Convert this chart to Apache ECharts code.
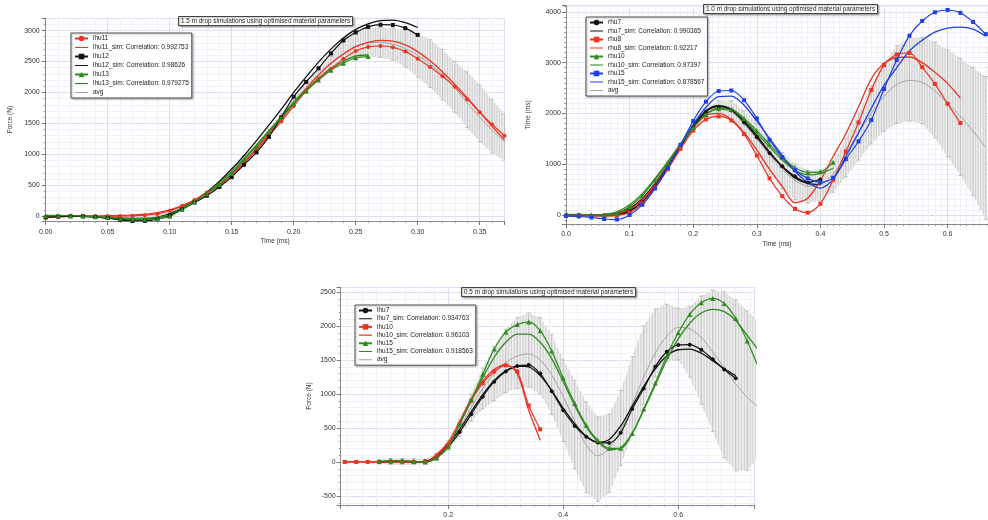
<!DOCTYPE html>
<html>
<head>
<meta charset="utf-8">
<title>Drop simulations using optimised material parameters</title>
<script src="https://cdn.jsdelivr.net/npm/echarts@6.0.0/dist/echarts.min.js"></script>
<style>
  html, body { margin: 0; padding: 0; background: #fff; }
  #chart { width: 988px; height: 520px; }
</style>
</head>
<body>
<div id="chart"></div>
<script>
// ---- 1.5 m drop (top left) ----
const t15 = [0.00,0.01,0.02,0.03,0.04,0.05,0.06,0.07,0.08,0.09,0.10,0.11,0.12,0.13,0.14,0.15,0.16,0.17,0.18,0.19,
             0.20,0.21,0.22,0.23,0.24,0.25,0.26,0.27,0.28,0.29,0.30,0.31,0.32,0.33,0.34,0.35,0.36,0.37];
const lhu11    = [-30,-10,0,0,0,0,0,5,15,35,85,165,260,380,490,660,850,1070,1300,1530,1780,2020,2220,2380,2540,2670,2735,2750,2730,2660,2545,2410,2260,2090,1890,1680,1480,1300];
const lhu11Sim = [-20,-5,0,0,0,5,10,15,30,55,100,170,260,370,500,670,870,1090,1330,1570,1820,2060,2280,2470,2620,2740,2810,2840,2830,2770,2660,2510,2330,2130,1910,1680,1450,1230];
const lhu12    = [-20,-10,-5,-5,-15,-30,-60,-80,-78,-50,10,110,220,330,470,630,830,1030,1280,1600,1930,2170,2390,2630,2840,2970,3060,3095,3090,3040,2930];
const lhu12Sim = [-10,-5,0,-5,-15,-35,-55,-65,-55,-20,40,130,250,390,560,760,980,1220,1470,1730,2000,2250,2490,2700,2880,3020,3110,3160,3170,3130,3050];
const lhu13    = [0,5,5,0,-10,-25,-40,-50,-55,-45,-5,110,230,360,510,690,910,1130,1360,1590,1820,2020,2200,2360,2470,2560,2580];
const lhu13Sim = [10,10,5,0,-5,-15,-25,-35,-35,-20,30,130,250,380,540,720,930,1150,1380,1610,1840,2040,2230,2390,2500,2590,2605];
const avg15    = [-10,-5,0,-5,-10,-20,-30,-40,-35,-15,30,130,240,360,510,680,890,1110,1350,1600,1850,2080,2290,2460,2620,2740,2800,2810,2780,2710,2600,2460,2280,2070,1830,1600,1390,1200];
const avg15Lo  = [-35,-20,-10,-15,-25,-40,-65,-80,-80,-60,-10,100,215,330,470,630,830,1050,1290,1540,1790,2010,2200,2360,2450,2560,2580,2570,2520,2410,2250,2080,1880,1680,1430,1200,1020,900];
const avg15Hi  = [15,10,10,5,5,0,5,5,15,35,85,165,265,390,560,760,980,1170,1410,1660,1910,2150,2380,2580,2870,3000,3040,3050,3040,3010,2950,2850,2690,2500,2330,2120,1880,1650];

// ---- 1.0 m drop (top right) ----
const t10 = [0.00,0.02,0.04,0.06,0.08,0.10,0.12,0.14,0.16,0.18,0.20,0.22,0.24,0.26,0.28,0.30,0.32,0.34,0.36,0.38,
             0.40,0.42,0.44,0.46,0.48,0.50,0.52,0.54,0.56,0.58,0.60,0.62,0.64,0.66];
const rhu7     = [0,0,-10,-10,0,80,250,560,930,1340,1730,2030,2130,2060,1820,1530,1220,960,760,640,700];
const rhu7Sim  = [0,0,0,10,40,130,320,620,980,1380,1760,2050,2150,2080,1860,1560,1240,950,730,620,600];
const rhu8     = [-20,-20,-20,-20,-10,50,230,540,900,1300,1660,1880,1940,1860,1590,1170,720,370,120,45,220,690,1250,1820,2460,2950,3160,3190,2910,2580,2190,1810];
const rhu8Sim  = [-10,-10,-10,-5,20,110,300,600,960,1350,1710,1960,2000,1880,1620,1280,900,560,240,330,680,1150,1600,2130,2680,2980,3100,3110,3000,2810,2590,2300];
const rhu10    = [10,10,0,0,30,160,380,690,1020,1380,1720,1980,2090,2080,1900,1660,1390,1130,930,840,850,1040];
const rhu10Sim = [0,0,0,10,60,200,420,720,1050,1400,1740,1990,2100,2060,1870,1610,1340,1080,880,790,820,920];
const rhu15    = [-20,-30,-50,-80,-90,0,200,520,920,1380,1850,2230,2440,2450,2260,1900,1480,1140,880,720,640,730,1100,1450,1870,2480,3050,3530,3820,3990,4035,3980,3800,3560];
const rhu15Sim = [-20,-20,-20,-20,0,70,260,560,950,1370,1780,2120,2330,2340,2160,1850,1510,1170,860,640,530,700,1150,1620,2100,2550,2900,3230,3440,3600,3680,3700,3660,3520];
const avg10    = [0,0,-10,-10,10,100,290,600,960,1350,1720,1980,2080,2020,1800,1500,1180,900,680,570,600,800,1200,1620,2000,2330,2570,2650,2610,2440,2200,1950,1650,1330];
const avg10Lo  = [-20,-25,-40,-60,-70,20,200,520,890,1290,1640,1880,1950,1880,1580,1180,800,520,300,230,280,450,750,1080,1400,1650,1800,1850,1800,1520,1150,780,380,-80];
const avg10Hi  = [15,15,10,20,60,180,390,700,1030,1410,1800,2100,2250,2250,2050,1800,1500,1230,1000,880,880,1050,1500,2000,2550,3000,3330,3480,3500,3400,3250,3080,2900,2720];

// ---- 0.5 m drop (bottom) ----
const t05 = [0.02,0.04,0.06,0.08,0.10,0.12,0.14,0.16,0.18,0.20,0.22,0.24,0.26,0.28,0.30,0.32,0.34,0.36,0.38,0.40,
             0.42,0.44,0.46,0.48,0.50,0.52,0.54,0.56,0.58,0.60,0.62,0.64,0.66,0.68,0.70,0.72,0.74];
const lhu7     = [null,null,null,0,10,10,0,10,80,225,440,700,960,1180,1330,1410,1425,1300,1040,760,530,370,285,280,430,780,1080,1400,1620,1720,1725,1650,1510,1360,1230];
const lhu7Sim  = [null,null,null,0,0,0,0,0,100,260,480,740,990,1200,1340,1410,1400,1270,1050,790,560,380,290,330,530,820,1110,1370,1560,1650,1660,1600,1490,1370,1270];
const lhu10    = [0,0,0,0,0,0,0,0,90,250,560,900,1160,1330,1420,1330,830,480];
const lhu10Sim = [0,0,0,0,0,0,0,0,110,290,600,930,1190,1360,1430,1300,760,320];
const lhu15    = [null,null,null,10,20,20,10,0,60,225,560,910,1290,1660,1910,2020,2060,1930,1630,1230,860,540,320,200,200,420,780,1160,1560,1900,2170,2340,2405,2330,2110,1780,1380];
const lhu15Sim = [null,null,null,10,10,10,5,0,70,240,560,900,1240,1540,1760,1880,1880,1760,1520,1180,830,520,300,180,210,420,760,1130,1500,1810,2040,2190,2245,2210,2080,1860,1640];
const avg05    = [0,0,0,0,5,5,5,5,80,240,500,800,1080,1300,1460,1560,1590,1500,1280,960,600,250,90,200,470,850,1250,1600,1850,1980,1960,1830,1620,1380,1150,950,800];
const avg05Lo  = [-20,-20,-20,-30,-40,-40,-40,-30,30,170,380,600,780,900,1020,1080,1100,1000,700,300,-100,-450,-580,-450,-50,400,850,1250,1480,1500,1250,850,450,60,-130,-120,60];
const avg05Hi  = [20,20,20,30,50,50,50,40,130,310,620,1000,1380,1700,1950,2120,2190,2120,1870,1500,1200,880,660,700,1050,1550,2000,2250,2320,2260,2280,2440,2525,2500,2380,2220,2060];

const RED = '#ee3322', BLACK = '#111111', GREEN = '#2e8a1e', BLUE = '#1e3fe6', GREY = '#a3a3a3';
const FONT = 'Liberation Sans, Arial, sans-serif';
// plain line icon for legend entries without markers (tiny corner specks only fix the box)
const LINE_ICON = 'path://M0,0L0.01,0L0,0.01ZM0,3.2L14,3.2L14,4.4L0,4.4ZM14,7.5L13.99,7.5L14,7.49Z';

const pairs = (ts, vals) => ts.map((t, i) => [t, vals[i]]).filter(p => p[1] != null);

function measured(name, ts, vals, color, symbol, idx) {
  return {
    name, type: 'line', xAxisIndex: idx, yAxisIndex: idx, data: pairs(ts, vals),
    smooth: 0.3, symbol, symbolSize: symbol === 'triangle' ? 5 : 4, showSymbol: true,
    lineStyle: { color, width: 1.2 }, itemStyle: { color }, z: 5
  };
}
function simulated(name, ts, vals, color, idx) {
  return {
    name, type: 'line', xAxisIndex: idx, yAxisIndex: idx, data: pairs(ts, vals),
    smooth: 0.3, symbol: 'none', lineStyle: { color, width: 1.3 }, itemStyle: { color }, z: 4
  };
}
function average(ts, vals, idx) {
  return {
    name: 'avg', type: 'line', xAxisIndex: idx, yAxisIndex: idx, data: pairs(ts, vals),
    smooth: 0.3, symbol: 'none', lineStyle: { color: GREY, width: 1 }, itemStyle: { color: GREY }, z: 3
  };
}
// spread of the average: light grey band with dense vertical bars and caps
function band(ts, lo, hi, idx) {
  const pts = ts.map((t, i) => [t, lo[i], hi[i]]);
  const bar = { stroke: '#bdbdbd', lineWidth: 1 };
  const hatch = { stroke: '#d0d0d0', lineWidth: 1 };
  return {
    type: 'custom', xAxisIndex: idx, yAxisIndex: idx, data: pts, encode: { x: 0, y: [1, 2] },
    clip: true, silent: true, z: 1,
    renderItem: (params, api) => {
      const i = params.dataIndex;
      const a = api.coord([pts[i][0], pts[i][1]]);
      const b = api.coord([pts[i][0], pts[i][2]]);
      const kids = [];
      if (i + 1 < pts.length) {
        const c = api.coord([pts[i + 1][0], pts[i + 1][2]]);
        const d = api.coord([pts[i + 1][0], pts[i + 1][1]]);
        kids.push({ type: 'polygon', shape: { points: [a, b, c, d] }, style: { fill: '#ececec' } });
        const n = Math.max(1, Math.round((d[0] - a[0]) / 2.6));
        for (let k = 1; k < n; k++) {
          const f = k / n;
          const x = a[0] + f * (d[0] - a[0]);
          kids.push({ type: 'line', shape: { x1: x, y1: a[1] + f * (d[1] - a[1]), x2: x, y2: b[1] + f * (c[1] - b[1]) }, style: hatch });
        }
      }
      kids.push({ type: 'line', shape: { x1: a[0], y1: a[1], x2: b[0], y2: b[1] }, style: bar });
      kids.push({ type: 'line', shape: { x1: a[0] - 2, y1: a[1], x2: a[0] + 2, y2: a[1] }, style: bar });
      kids.push({ type: 'line', shape: { x1: b[0] - 2, y1: b[1], x2: b[0] + 2, y2: b[1] }, style: bar });
      return { type: 'group', children: kids };
    }
  };
}

function axis(idx, min, max, splitNumber, minor, opts) {
  return Object.assign({
    type: 'value', gridIndex: idx, min, max, splitNumber,
    axisLine: { show: true, onZero: false, lineStyle: { color: '#8a8a8a', width: 1 } },
    axisTick: { show: true, length: 4, lineStyle: { color: '#777' } },
    minorTick: { show: true, splitNumber: minor, length: 2, lineStyle: { color: '#999' } },
    splitLine: { show: true, lineStyle: { color: '#dcdef2', width: 1 } },
    minorSplitLine: { show: true, lineStyle: { color: '#eff0f8', width: 1 } },
    nameLocation: 'middle',
    nameTextStyle: { fontFamily: FONT, fontSize: 6.5, color: '#333' }
  }, opts);
}
const label = (margin, fmt, showMin) => ({
  fontFamily: FONT, fontSize: 7, color: '#333', margin, formatter: fmt,
  showMinLabel: showMin, showMaxLabel: false
});

function titleBox(text, left, top) {
  return {
    text, left, top, padding: [1, 3],
    backgroundColor: '#fff', borderColor: '#444', borderWidth: 1,
    shadowColor: 'rgba(0,0,0,0.35)', shadowBlur: 2, shadowOffsetX: 1, shadowOffsetY: 1,
    textStyle: { fontFamily: FONT, fontSize: 6.4, fontWeight: 'normal', color: '#222', lineHeight: 8 }
  };
}
function legendBox(names, left, top, gap) {
  const data = names.map(n => (n.indexOf('_sim') > 0 || n === 'avg') ? { name: n, icon: LINE_ICON } : { name: n });
  return {
    data, left, top, orient: 'vertical', padding: [2, 3], itemGap: gap,
    itemWidth: 13, itemHeight: 7, selectedMode: false,
    backgroundColor: '#fff', borderColor: '#555', borderWidth: 1,
    shadowColor: 'rgba(0,0,0,0.3)', shadowBlur: 2, shadowOffsetX: 1, shadowOffsetY: 1,
    textStyle: { fontFamily: FONT, fontSize: 6.5, color: '#222', lineHeight: 7 }
  };
}

const chart = echarts.init(document.getElementById('chart'));
chart.setOption({
  animation: false,
  backgroundColor: '#fff',
  title: [
    titleBox('1.5 m drop simulations using optimised material parameters', 178, 16),
    titleBox('1.0 m drop simulations using optimised material parameters', 703, 4),
    titleBox('0.5 m drop simulations using optimised material parameters', 461, 287)
  ],
  legend: [
    legendBox(['lhu11', 'lhu11_sim: Correlation: 0.992753', 'lhu12', 'lhu12_sim: Correlation: 0.98626',
               'lhu13', 'lhu13_sim: Correlation: 0.979275', 'avg'], 71, 33, 2),
    legendBox(['rhu7', 'rhu7_sim: Correlation: 0.990365', 'rhu8', 'rhu8_sim: Correlation: 0.92217',
               'rhu10', 'rhu10_sim: Correlation: 0.97397', 'rhu15', 'rhu15_sim: Correlation: 0.878567', 'avg'], 586, 17, 1.5),
    legendBox(['lhu7', 'lhu7_sim: Correlation: 0.934763', 'lhu10', 'lhu10_sim: Correlation: 0.96103',
               'lhu15', 'lhu15_sim: Correlation: 0.918563', 'avg'], 355, 305, 1.2)
  ],
  grid: [
    { left: 45.7, top: 18.2, width: 458.8, height: 202.8, outerBoundsMode: 'none' },
    { left: 566, top: 5.7, width: 422, height: 218.4, outerBoundsMode: 'none' },
    { left: 340.7, top: 287.2, width: 414, height: 217.6, outerBoundsMode: 'none' }
  ],
  xAxis: [
    axis(0, 0, 0.37, 7, 5, { name: 'Time (ms)', nameGap: 17, axisLabel: label(8, v => v.toFixed(2), true) }),
    axis(1, 0, 0.6635, 5, 10, { name: 'Time (ms)', nameGap: 17, axisLabel: label(6, v => v.toFixed(1), true) }),
    axis(2, 0.013, 0.733, 4, 8, { name: 'Time (ms)', nameGap: 16, axisLabel: label(6.5, v => v.toFixed(1), false) })
  ],
  yAxis: [
    axis(0, -80, 3200, 5, 5, { name: 'Force (N)', nameGap: 32, axisLabel: label(6, v => String(v), false) }),
    axis(1, -180, 4120, 5, 10, { name: 'Time (ms)', nameGap: 34, axisLabel: label(5, v => String(v), false) }),
    axis(2, -630, 2570, 5, 5, { name: 'Force (N)', nameGap: 28, axisLabel: label(5, v => String(v), false) })
  ],
  series: [
    band(t15, avg15Lo, avg15Hi, 0),
    average(t15, avg15, 0),
    simulated('lhu11_sim: Correlation: 0.992753', t15, lhu11Sim, RED, 0),
    simulated('lhu12_sim: Correlation: 0.98626', t15, lhu12Sim, BLACK, 0),
    simulated('lhu13_sim: Correlation: 0.979275', t15, lhu13Sim, GREEN, 0),
    measured('lhu11', t15, lhu11, RED, 'circle', 0),
    measured('lhu12', t15, lhu12, BLACK, 'rect', 0),
    measured('lhu13', t15, lhu13, GREEN, 'triangle', 0),

    band(t10, avg10Lo, avg10Hi, 1),
    average(t10, avg10, 1),
    simulated('rhu7_sim: Correlation: 0.990365', t10, rhu7Sim, BLACK, 1),
    simulated('rhu8_sim: Correlation: 0.92217', t10, rhu8Sim, RED, 1),
    simulated('rhu10_sim: Correlation: 0.97397', t10, rhu10Sim, GREEN, 1),
    simulated('rhu15_sim: Correlation: 0.878567', t10, rhu15Sim, BLUE, 1),
    measured('rhu7', t10, rhu7, BLACK, 'circle', 1),
    measured('rhu8', t10, rhu8, RED, 'rect', 1),
    measured('rhu10', t10, rhu10, GREEN, 'triangle', 1),
    measured('rhu15', t10, rhu15, BLUE, 'rect', 1),

    band(t05, avg05Lo, avg05Hi, 2),
    average(t05, avg05, 2),
    simulated('lhu7_sim: Correlation: 0.934763', t05, lhu7Sim, BLACK, 2),
    simulated('lhu10_sim: Correlation: 0.96103', t05, lhu10Sim, RED, 2),
    simulated('lhu15_sim: Correlation: 0.918563', t05, lhu15Sim, GREEN, 2),
    measured('lhu7', t05, lhu7, BLACK, 'circle', 2),
    measured('lhu10', t05, lhu10, RED, 'rect', 2),
    measured('lhu15', t05, lhu15, GREEN, 'triangle', 2)
  ]
});
</script>
</body>
</html>
